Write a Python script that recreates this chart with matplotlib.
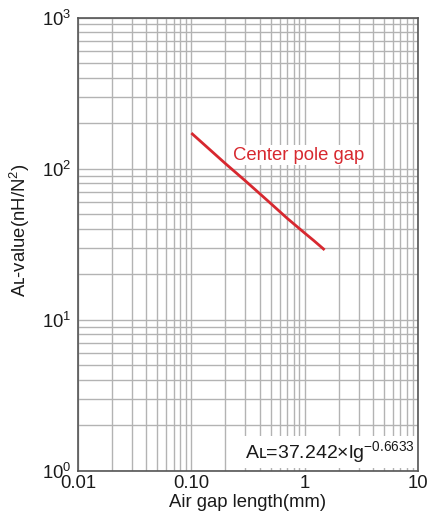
import matplotlib
matplotlib.use("Agg")
import matplotlib.pyplot as plt
from matplotlib.ticker import LogLocator, FixedLocator, FixedFormatter

plt.rcParams['font.family'] = ['Liberation Sans', 'DejaVu Sans']
plt.rcParams['mathtext.fontset'] = 'custom'
plt.rcParams['mathtext.rm'] = 'Liberation Sans'
plt.rcParams['mathtext.it'] = 'Liberation Sans'

# data
gap_mm = [0.1, 0.15, 0.2, 0.3, 0.4, 0.5, 0.7, 1.0, 1.2, 1.5]
al_value = [172, 131, 108, 83, 68.5, 59, 47, 37.5, 33.5, 29]
series_label = "Center pole gap"
x_ticks = [0.01, 0.1, 1, 10]
x_tick_labels = ["0.01", "0.10", "1", "10"]
y_ticks = [1, 10, 100, 1000]
y_tick_labels = [r"$\mathregular{10^{0}}$", r"$\mathregular{10^{1}}$",
                 r"$\mathregular{10^{2}}$", r"$\mathregular{10^{3}}$"]
formula = r"Aʟ=37.242×lg$^{\mathregular{-0.6633}}$"
y_label = r"Aʟ-value(nH/N$^{\mathregular{2}}$)"
x_label = "Air gap length(mm)"

fig = plt.figure(figsize=(4.28, 5.17), dpi=100)
ax = fig.add_axes([78/428, 1 - 471/517, 340/428, 453.5/517])

ax.set_xscale('log')
ax.set_yscale('log')
ax.set_xlim(0.01, 10)
ax.set_ylim(1, 1000)

ax.xaxis.set_minor_locator(LogLocator(base=10, subs=range(2, 10), numticks=20))
ax.yaxis.set_minor_locator(LogLocator(base=10, subs=range(2, 10), numticks=20))
ax.grid(True, which='both', color='#b3b3b3', linewidth=1.0)
ax.set_axisbelow(True)

ax.xaxis.set_major_locator(FixedLocator(x_ticks))
ax.xaxis.set_major_formatter(FixedFormatter(x_tick_labels))
ax.yaxis.set_major_locator(FixedLocator(y_ticks))
ax.yaxis.set_major_formatter(FixedFormatter(y_tick_labels))
ax.tick_params(which='both', length=0)
ax.tick_params(axis='x', pad=3, labelsize=13.3, colors='#1a1a1a')
ax.tick_params(axis='y', pad=5, labelsize=13.3, colors='#1a1a1a')

for s in ax.spines.values():
    s.set_color('#555555')
    s.set_linewidth(1.2)

ax.plot(gap_mm, al_value, color='#d7282f', linewidth=2.0, solid_capstyle='butt')

ax.text(0.235, 123, series_label, color='#d7282f', fontsize=13.3,
        ha='left', va='center', zorder=5,
        bbox=dict(facecolor='white', edgecolor='none', pad=1))

ax.text(9.3, 1.22, formula, fontsize=14, color='#1a1a1a',
        ha='right', va='baseline', zorder=5,
        bbox=dict(facecolor='white', edgecolor='none', pad=2))

ax.set_xlabel(x_label, fontsize=13.3, color='#1a1a1a', labelpad=1)
ax.set_ylabel(y_label, fontsize=13.3, color='#1a1a1a')
ax.yaxis.set_label_coords(-0.135, 0.531)

fig.savefig("out.png", dpi=100)
